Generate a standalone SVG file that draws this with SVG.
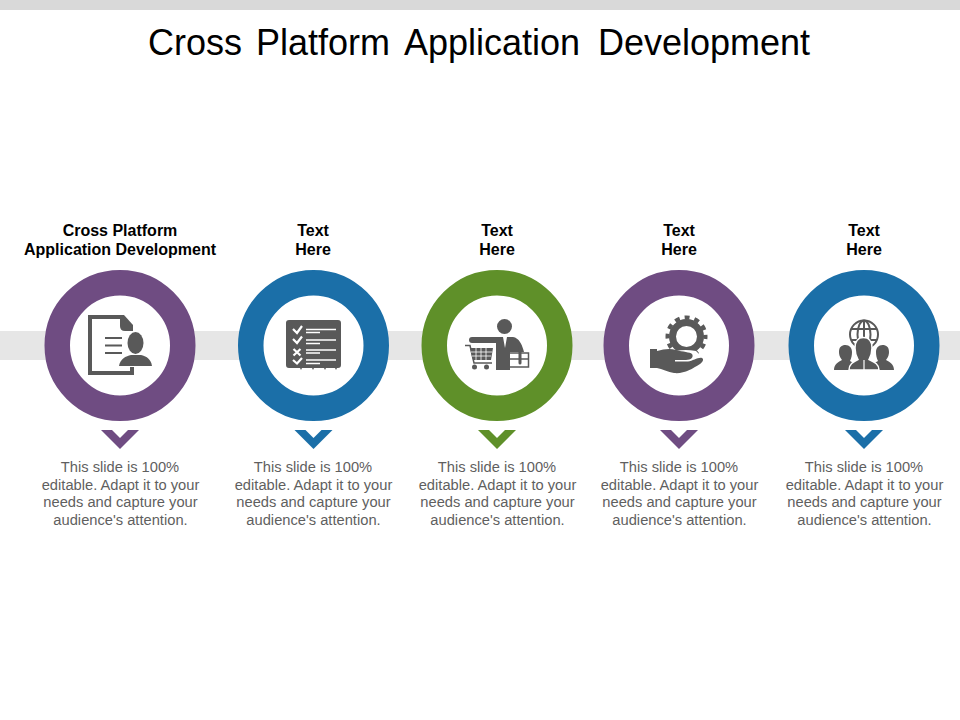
<svg xmlns="http://www.w3.org/2000/svg" width="960" height="720" viewBox="0 0 960 720">
<style>
text{font-family:"Liberation Sans",Arial,sans-serif;text-anchor:middle}
.t{font-size:36px;fill:#000;text-anchor:start}
.h{font-size:16px;font-weight:bold;fill:#000}
.b{font-size:14.700px;fill:#5f5f5f}
.ring{fill:#fff;stroke-width:25.500}
.ic{fill:#595959}
.ln{fill:none;stroke:#595959}
.w{fill:none;stroke:#fff}
.purple{stroke:#6f4c82}.blue{stroke:#1b6fa8}.green{stroke:#5f9029}
.fp{fill:#6f4c82}.fb{fill:#1b6fa8}.fg{fill:#5f9029}
</style>
<defs>
<path id="chev" d="M-19 430H-8L0 438 8 430H19L0 449Z"/>
<path id="side" d="M-11.500 370C-11.500 364-7 362-3.500 360-6 357-6.500 354-6.500 352-6.500 347-4 345 0 345 4 345 6.500 348 6.500 352 6.500 355 6 358 4.500 361L8 363V370Z"/>
</defs>
<rect x="0" y="0" width="960" height="10" fill="#d9d9d9"/>
<rect x="0" y="331" width="960" height="29" fill="#e6e6e6"/>
<text class="t" y="55"><tspan x="148">Cross</tspan><tspan x="256">Platform</tspan><tspan x="404">Application</tspan><tspan x="598">Development</tspan></text>

<g id="node-1">
<text class="h" x="120" y="235.500">Cross Platform</text>
<text class="h" x="120" y="254.500">Application Development</text>
<circle class="ring purple" cx="120" cy="345.500" r="62.750"/>
<path class="ln" stroke-width="4" d="M132 367V373H90V317H120"/>
<path class="ic" d="M120 315H124L133 325V331H125Q120 331 120 326Z"/>
<path class="ln" stroke-width="2" d="M105 338H122M105 345.500H122M105 353H122"/>
<ellipse class="ic" cx="135.500" cy="343" rx="8" ry="11"/>
<path class="ic" d="M119 366C120 359 126 356 131 355H141C146 356 151 359 152 366Z"/>
<use href="#chev" class="fp" x="120"/>
<text class="b" x="120" y="472">This slide is 100%</text>
<text class="b" x="120.500" y="490">editable. Adapt it to your</text>
<text class="b" x="120.500" y="507">needs and capture your</text>
<text class="b" x="120.500" y="525">audience's attention.</text>
</g>

<g id="node-2">
<text class="h" x="313" y="235.500">Text</text>
<text class="h" x="313" y="254.500">Here</text>
<circle class="ring blue" cx="313.500" cy="345.500" r="62.750"/>
<path class="ic" d="M289 320H338Q341 320 341 323V365Q341 368 338 368H337L336 370 335 368H326L325 370 324 368H314L313 370 312 368H302L301 370 300 368H289Q286 368 286 365V323Q286 320 289 320Z"/>
<path class="w" stroke-width="2.200" d="M293 329L297 333 302 326M293 339L297 343 302 336.500M293.500 349L300.500 355.500M300.500 349L293.500 355.500M293 360L297 363.500 302 358"/>
<path class="w" stroke-width="1.300" d="M306 329.500H336M306 332.500H320M306 340H336M306 343.500H320M306 350H336M306 353H320M306 360H336M306 363.500H320"/>
<use href="#chev" class="fb" x="313.500"/>
<text class="b" x="313" y="472">This slide is 100%</text>
<text class="b" x="313.500" y="490">editable. Adapt it to your</text>
<text class="b" x="313.500" y="507">needs and capture your</text>
<text class="b" x="313.500" y="525">audience's attention.</text>
</g>

<g id="node-3">
<text class="h" x="497" y="235.500">Text</text>
<text class="h" x="497" y="254.500">Here</text>
<circle class="ring green" cx="497" cy="345.500" r="62.750"/>
<circle class="ic" cx="504.500" cy="326.500" r="7.500"/>
<path class="ln" stroke-width="6" stroke-linecap="round" d="M472 340H500"/>
<path class="ic" d="M496 337H503L505 348 507 337H513C519 338 522 344 524 352H510V370H496Z"/>
<path class="ln" stroke-width="1.500" d="M510 353H528.500V367H510M510 359H528"/>
<path class="ln" stroke-width="3" stroke-linecap="round" d="M520 346V363"/>
<path class="ln" stroke-width="1.500" d="M465 345.500H470L474 363H492"/>
<path class="ic" d="M470 348H493L491 360H473Z"/>
<path class="w" stroke-width=".8" d="M476 348V360M481 348V360M486 348V360M471 352H492M472 356H491"/>
<circle class="ic" cx="474.500" cy="367" r="2.500"/>
<circle class="ic" cx="486.500" cy="367" r="2.500"/>
<use href="#chev" class="fg" x="497"/>
<text class="b" x="497" y="472">This slide is 100%</text>
<text class="b" x="497.500" y="490">editable. Adapt it to your</text>
<text class="b" x="497.500" y="507">needs and capture your</text>
<text class="b" x="497.500" y="525">audience's attention.</text>
</g>

<g id="node-4">
<text class="h" x="679" y="235.500">Text</text>
<text class="h" x="679" y="254.500">Here</text>
<circle class="ring purple" cx="679" cy="345.500" r="62.750"/>
<circle class="ln" cx="686.500" cy="336.500" r="14" stroke-width="7"/>
<circle class="ln" cx="686.500" cy="336.500" r="19" stroke-width="4" stroke-dasharray="5 4.950" stroke-dashoffset="2.500"/>
<path d="M666 354Q680 348 696 351L704 359 690 366 664 362Z" fill="#fff"/>
<path class="ic" d="M650 349H657V351C664 349 670 348 676 350 683 352 690 352 692 354 694 357 691 360 686 360H675V361.500H688C693 361 698 357 702 358 704 359 703 362 700 364 692 369 684 374 674 373 668 372 662 369 657 368V368H650Z"/>
<use href="#chev" class="fp" x="679"/>
<text class="b" x="679" y="472">This slide is 100%</text>
<text class="b" x="679.500" y="490">editable. Adapt it to your</text>
<text class="b" x="679.500" y="507">needs and capture your</text>
<text class="b" x="679.500" y="525">audience's attention.</text>
</g>

<g id="node-5">
<text class="h" x="864" y="235.500">Text</text>
<text class="h" x="864" y="254.500">Here</text>
<circle class="ring blue" cx="864" cy="345.500" r="62.750"/>
<g class="ln" stroke-width="2">
<circle cx="864" cy="334.500" r="14"/>
<ellipse cx="864" cy="334.500" rx="6.500" ry="14"/>
<path d="M851 329H877M851 340H877M864 321V349"/>
</g>
<use href="#side" class="ic" x="845.500"/>
<use href="#side" class="ic" transform="translate(882.500 0) scale(-1 1)"/>
<path class="ic" stroke="#fff" stroke-width="1.500" d="M849 370C849 364 853 362 858 359.500 856 356 855 352 855 348 855 342 858 337.500 863.500 337.500 869 337.500 872 342 872 348 872 352 871 356 869 359.500 874 362 879 364 879 370Z"/>
<path class="w" stroke-width="1.200" d="M864 360V370"/>
<use href="#chev" class="fb" x="864"/>
<text class="b" x="864" y="472">This slide is 100%</text>
<text class="b" x="864.500" y="490">editable. Adapt it to your</text>
<text class="b" x="864.500" y="507">needs and capture your</text>
<text class="b" x="864.500" y="525">audience's attention.</text>
</g>
</svg>
